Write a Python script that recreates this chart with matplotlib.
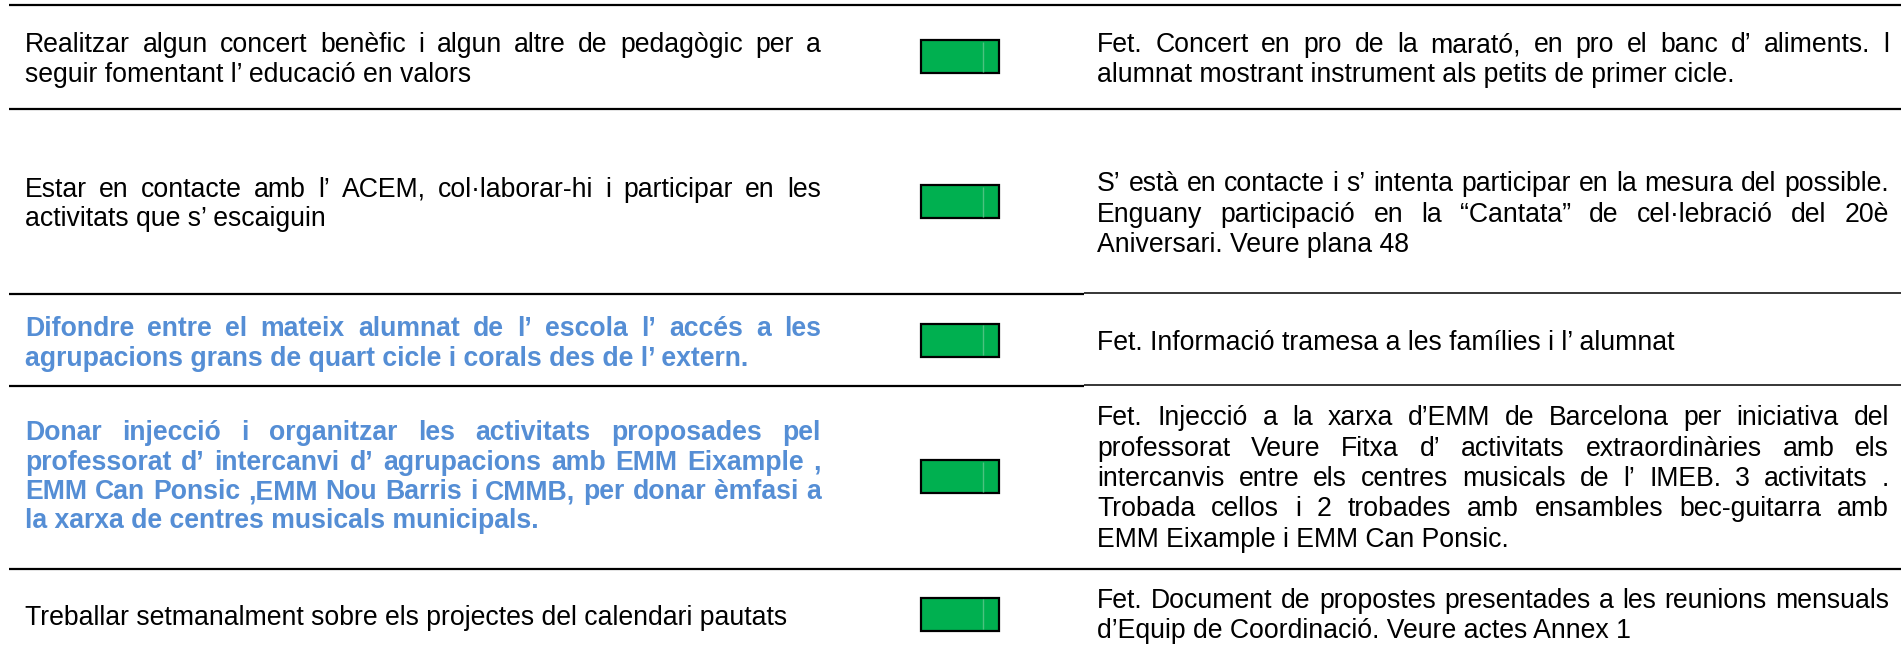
import matplotlib
matplotlib.use('Agg')
import matplotlib.pyplot as plt

# objectius (columna esquerra), línia a línia tal com surten a la imatge
objectius = [
    ["Realitzar algun concert benèfic i algun altre de pedagògic per a",
     "seguir fomentant l’ educació en valors"],
    ["Estar en contacte amb l’ ACEM, col·laborar-hi i participar en les",
     "activitats que s’ escaiguin"],
    ["Difondre entre el mateix alumnat de l’ escola l’ accés a les",
     "agrupacions grans de quart cicle i corals des de l’ extern."],
    ["Donar injecció i organitzar les activitats proposades pel",
     "professorat d’ intercanvi d’ agrupacions amb EMM Eixample ,",
     "EMM Can Ponsic ,EMM Nou Barris i CMMB, per donar èmfasi a",
     "la xarxa de centres musicals municipals."],
    ["Treballar setmanalment sobre els projectes del calendari pautats"],
]
destacat = [False, False, True, True, False]

# estat de cada objectiu
estat = ["fet", "fet", "fet", "fet", "fet"]
colors_estat = {"fet": "#00B050"}

# valoració (columna dreta)
valoracio = [
    ["Fet. Concert en pro de la marató, en pro el banc d’ aliments. l",
     "alumnat mostrant instrument als petits de primer cicle."],
    ["S’ està en contacte i s’ intenta participar en la mesura del possible.",
     "Enguany participació en la “Cantata” de cel·lebració del 20è",
     "Aniversari. Veure plana 48"],
    ["Fet. Informació tramesa a les famílies i l’ alumnat"],
    ["Fet. Injecció a la xarxa d’EMM de Barcelona per iniciativa del",
     "professorat Veure Fitxa d’ activitats extraordinàries amb els",
     "intercanvis entre els centres musicals de l’ IMEB. 3 activitats .",
     "Trobada cellos i 2 trobades amb ensambles bec-guitarra amb",
     "EMM Eixample i EMM Can Ponsic."],
    ["Fet. Document de propostes presentades a les reunions mensuals",
     "d’Equip de Coordinació. Veure actes Annex 1"],
]

# maquetació (píxels)
W, H = 1901, 653
separadors = [5, 109, 293.5, 385, 569]
partit = [False, False, True, True, False]   # línia feta de dos trossos
y_esq = [43, 188, 327, 431, 616]
y_dre = [43, 182, 341, 416, 599]
y_caixa = [56.5, 201.5, 340, 476.5, 614]
FS = 19.15
BLAU = '#558ED5'

fig = plt.figure(figsize=(W / 100, H / 100), dpi=100)
ax = fig.add_axes([0, 0, 1, 1])
ax.set_xlim(0, W)
ax.set_ylim(H, 0)
ax.axis('off')
renderer = fig.canvas.get_renderer()


def linia(x0, x1, y, text, justificar, **kw):
    base = y + 9
    if not justificar:
        ax.text(x0, base, text, va='baseline', ha='left', **kw)
        return
    paraules = text.split(' ')
    ts = [ax.text(0, base, p, va='baseline', ha='left', **kw) for p in paraules]
    amples = [t.get_window_extent(renderer).width for t in ts]
    espai = (x1 - x0 - sum(amples)) / (len(paraules) - 1)
    x = x0
    for t, a in zip(ts, amples):
        t.set_x(x)
        x += a + espai


for i, par in enumerate(objectius):
    kw = dict(fontsize=FS, family='Liberation Sans')
    if destacat[i]:
        kw.update(color=BLAU, fontweight='bold')
    else:
        kw.update(color='black')
    for j, txt in enumerate(par):
        linia(25, 821, y_esq[i] + j * 29.5, txt, j < len(par) - 1, **kw)

for i, par in enumerate(valoracio):
    for j, txt in enumerate(par):
        linia(1097, 1889, y_dre[i] + j * 30.5, txt, j < len(par) - 1,
              fontsize=FS, family='Liberation Sans', color='black')

# separadors de files
for y, p in zip(separadors, partit):
    if p:
        ax.plot([9, 1084], [y + 0.6, y + 0.6], color='black', lw=1.6, solid_capstyle='butt')
        ax.plot([1084, W], [y - 0.4, y - 0.4], color='black', lw=1.1, solid_capstyle='butt')
    else:
        ax.plot([9, W], [y, y], color='black', lw=1.6, solid_capstyle='butt')

# indicadors d'estat
ax.barh(y_caixa, width=78, left=921, height=33,
        color=[colors_estat[e] for e in estat], edgecolor='black', linewidth=1.6)
ax.vlines([983] * len(y_caixa), [y - 15 for y in y_caixa], [y + 15 for y in y_caixa],
          color='#4CC27F', lw=1)

fig.savefig('out.png', dpi=100)
